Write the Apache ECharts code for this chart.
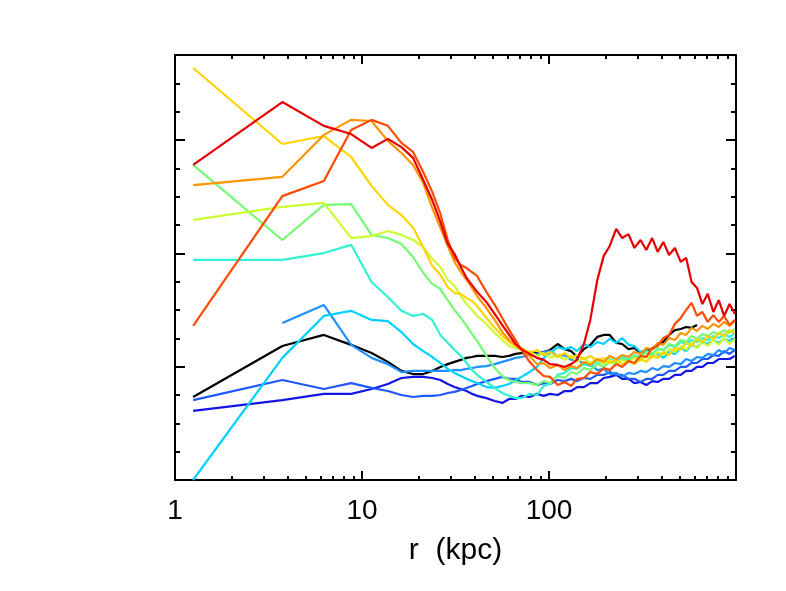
<!DOCTYPE html>
<html>
<head>
<meta charset="utf-8">
<script src="https://cdn.jsdelivr.net/npm/echarts@6/dist/echarts.min.js"></script>
<style>
  html, body { margin: 0; padding: 0; background: #fff; }
  #main { width: 786px; height: 591px; }
</style>
</head>
<body>
<div id="main"></div>
<script>
// radial bins (kpc)
const radius = [1.25,3.75,6.25,8.75,11.25,13.75,16.25,18.75,21.25,23.75,26.25,28.75,31.25,33.75,36.25,38.75,41.25,46.25,51.25,56.25,61.25,66.25,71.25,78.75,86.25,93.75,101.25,111.25,121.25,131.25,141.25,153.75,166.25,181.25,196.25,211.25,228.75,246.25,266.25,286.25,308.75,331.25,356.25,381.25,408.75,438.75,471.25,506.25,541.25,578.75,618.75,661.25,706.25,756.25,808.75,863.75,923.75,986.25];

// profiles, one per colour
const blackVals = [2.93,4.73,5.12,4.77,4.48,4.17,3.85,3.74,3.74,3.85,3.99,4.09,4.17,4.24,4.31,4.34,4.38,4.38,4.38,4.34,4.38,4.45,4.48,4.52,4.48,4.52,4.59,4.80,4.62,4.55,4.34,4.62,4.77,5.05,5.12,5.12,4.84,4.80,4.62,4.66,4.48,4.59,4.62,4.77,4.87,5.12,5.29,5.33,5.40,5.37,5.47,null,null,null,null,null,null,null];
const darkBlueVals = [2.44,2.82,3.04,3.04,3.21,3.39,3.60,3.64,3.64,3.60,3.53,3.39,3.28,3.21,3.14,3.04,2.97,2.89,2.79,2.72,2.86,2.86,2.97,2.93,3.04,2.97,3.04,3.00,3.14,3.14,3.28,3.28,3.42,3.42,3.60,3.64,3.71,3.57,3.57,3.42,3.46,3.35,3.49,3.46,3.57,3.57,3.71,3.71,3.85,3.85,3.99,3.99,4.13,4.13,4.27,4.27,4.27,4.38];
const blueVals = [2.82,3.53,3.21,3.42,3.25,3.14,3.00,2.93,2.97,2.97,3.00,3.07,3.11,3.18,3.25,3.32,3.39,3.49,3.57,3.64,3.57,3.57,3.46,3.46,3.35,3.42,3.39,3.53,3.49,3.57,3.49,3.60,3.57,3.71,3.71,3.81,3.71,3.71,3.57,3.57,3.46,3.57,3.57,3.71,3.71,3.85,3.85,3.99,3.99,4.13,4.13,4.27,4.27,4.41,4.38,4.55,4.45,4.59];
const skyBlueVals = [null,5.54,6.18,4.77,4.31,4.09,3.81,3.85,3.85,3.85,3.85,3.85,3.88,3.88,3.92,3.95,3.99,4.02,4.09,4.17,4.24,4.31,4.34,4.41,4.45,4.52,4.55,4.38,4.41,4.24,4.27,4.09,4.09,3.88,3.92,3.74,3.78,3.64,3.78,3.74,3.85,3.81,3.95,3.88,4.02,3.99,4.13,4.09,4.27,4.20,4.34,4.31,4.45,4.41,4.59,4.48,4.66,4.59];
const cyanVals = [0.00,4.31,5.79,5.97,5.65,5.61,5.22,4.80,4.55,4.34,4.13,3.92,3.78,3.67,3.57,3.49,3.42,3.28,3.25,3.32,3.39,3.53,3.64,3.81,3.99,4.31,4.48,4.69,4.62,4.69,4.55,4.80,4.69,4.87,4.80,4.98,4.84,5.01,4.77,4.73,4.52,4.59,4.38,4.45,4.31,4.52,4.45,4.66,4.55,4.77,4.69,4.87,4.80,4.94,4.84,4.98,4.91,5.01];
const aquaVals = [7.77,7.77,8.01,8.30,6.99,6.46,5.97,5.79,5.86,5.65,5.12,4.84,4.59,4.38,4.13,3.88,3.71,3.46,3.25,3.07,2.97,2.89,2.89,3.04,3.00,3.32,3.39,3.71,3.78,3.95,3.92,4.09,4.02,4.20,4.09,4.27,4.17,4.34,4.24,4.41,4.34,4.52,4.45,4.62,4.59,4.77,4.69,4.87,4.80,4.94,4.87,5.01,4.94,5.08,5.01,5.15,5.05,5.19];
const greenVals = [11.12,8.47,9.71,9.74,8.65,8.54,8.33,7.87,7.31,6.92,6.74,6.35,6.00,5.72,5.44,5.15,4.91,4.38,3.95,3.67,3.53,3.46,3.42,3.42,3.35,3.49,3.42,3.67,3.60,3.81,3.74,3.95,3.88,4.09,3.99,4.17,4.09,4.27,4.20,4.38,4.31,4.52,4.45,4.66,4.59,4.80,4.73,4.94,4.87,5.08,4.98,5.15,5.08,5.22,5.15,5.29,5.19,5.33];
const limeVals = [9.18,9.64,9.78,8.54,8.61,8.79,8.65,8.47,8.22,7.80,7.52,7.06,6.85,6.49,6.21,6.00,5.79,5.51,5.19,4.94,4.73,4.66,4.59,4.52,4.38,4.48,4.31,4.41,4.24,4.38,4.17,4.31,4.13,4.27,4.09,4.24,4.09,4.24,4.13,4.31,4.20,4.38,4.31,4.52,4.41,4.62,4.52,4.73,4.59,4.84,4.66,4.87,4.73,4.94,4.77,5.01,4.80,4.98];
const yellowVals = [14.54,11.86,12.14,11.40,10.38,9.71,9.35,8.90,8.22,7.55,7.24,6.81,6.60,6.57,6.42,6.32,6.14,5.72,5.37,5.08,4.87,4.73,4.66,4.48,4.59,4.41,4.52,4.34,4.48,4.31,4.41,4.27,4.38,4.20,4.31,4.13,4.24,4.09,4.20,4.09,4.27,4.17,4.38,4.31,4.52,4.41,4.66,4.59,4.84,4.73,4.98,4.87,5.08,4.98,5.19,5.08,5.29,5.19];
const orangeVals = [10.41,10.70,12.18,12.71,12.67,11.97,11.54,11.12,10.48,9.60,8.90,8.26,7.70,7.34,7.06,6.78,6.49,6.07,5.65,5.22,4.94,4.77,4.59,4.38,4.09,4.13,3.95,4.06,3.88,4.02,3.95,4.17,4.06,4.27,4.17,4.38,4.27,4.41,4.34,4.52,4.45,4.66,4.62,4.84,4.77,5.01,4.94,5.19,5.12,5.37,5.26,5.44,5.33,5.51,5.40,5.58,5.44,5.61];
const redOrangeVals = [5.44,10.02,10.55,12.35,12.71,12.50,11.90,11.58,10.87,10.17,9.39,8.47,7.84,7.59,7.48,7.34,7.20,6.64,6.18,5.72,5.29,4.94,4.59,4.17,3.88,3.67,3.64,3.35,3.46,3.32,3.57,3.60,3.81,3.74,3.95,3.88,4.09,3.99,4.20,4.13,4.38,4.34,4.66,4.73,5.01,5.12,5.51,5.72,6.00,6.25,5.79,5.93,5.58,5.82,5.58,5.79,5.47,5.65];
const redVals = [11.12,13.34,12.50,12.21,11.72,12.04,11.75,11.37,10.59,9.88,9.11,8.33,7.98,7.52,7.13,6.88,6.64,6.28,5.86,5.47,5.12,4.80,4.62,4.45,4.31,4.24,4.09,4.06,3.99,4.09,4.24,4.80,5.65,7.06,7.91,8.26,8.86,8.54,8.68,8.19,8.47,8.12,8.54,8.05,8.40,7.94,8.19,7.70,7.84,6.99,6.78,6.21,6.57,5.93,6.35,5.79,6.21,5.86];

const profiles = [
  { vals: blackVals, color: '#000000' },
  { vals: darkBlueVals, color: '#1414e6' },
  { vals: blueVals, color: '#2058ff' },
  { vals: skyBlueVals, color: '#1e90ff' },
  { vals: cyanVals, color: '#00d2ff' },
  { vals: aquaVals, color: '#30f2d2' },
  { vals: greenVals, color: '#74fa74' },
  { vals: limeVals, color: '#ccff30' },
  { vals: yellowVals, color: '#ffd400' },
  { vals: orangeVals, color: '#ff9400' },
  { vals: redOrangeVals, color: '#ff4a00' },
  { vals: redVals, color: '#e60000' }
];

const xMajor = [1, 10, 100];
const xMinor = [2,3,4,5,6,7,8,9,20,30,40,50,60,70,80,90,200,300,400,500,600,700,800,900];
const yMajor = [4, 8, 12];
const yMinor = [1,2,3,5,6,7,9,10,11,13,14];

const font = 'Liberation Sans';

function xAx(pos, ticks, len, withLine, withLabel) {
  return {
    type: 'log', logBase: 10, min: 1, max: 1000, position: pos,
    axisLine: { show: withLine, onZero: false, lineStyle: { color: '#000', width: 2 } },
    axisTick: { show: true, inside: true, length: len, customValues: ticks, lineStyle: { color: '#000', width: 2 } },
    axisLabel: withLabel
      ? { show: true, customValues: xMajor, color: '#000', fontSize: 28, fontFamily: font, margin: 17 }
      : { show: false },
    splitLine: { show: false },
    minorTick: { show: false }
  };
}
function yAx(pos, ticks, len, withLine) {
  return {
    type: 'value', min: 0, max: 15, position: pos,
    axisLine: { show: withLine, onZero: false, lineStyle: { color: '#000', width: 2 } },
    axisTick: { show: true, inside: true, length: len, customValues: ticks, lineStyle: { color: '#000', width: 2 } },
    axisLabel: { show: false },
    splitLine: { show: false }
  };
}

const xAxes = [
  xAx('bottom', xMajor, 9, true, true),
  xAx('bottom', xMinor, 4, false, false),
  xAx('top', xMajor, 9, true, false),
  xAx('top', xMinor, 4, false, false)
];
xAxes[0].name = 'r  (kpc)';
xAxes[0].nameLocation = 'middle';
xAxes[0].nameGap = 56;
xAxes[0].nameTextStyle = { color: '#000', fontSize: 30, fontFamily: font };

const yAxes = [
  yAx('left', yMajor, 10, true),
  yAx('left', yMinor, 5, false),
  yAx('right', yMajor, 10, true),
  yAx('right', yMinor, 5, false)
];

const chart = echarts.init(document.getElementById('main'), null, { renderer: 'canvas' });
chart.setOption({
  backgroundColor: '#ffffff',
  animation: false,
  grid: { left: 175, right: 50, top: 55, bottom: 111, containLabel: false },
  xAxis: xAxes,
  yAxis: yAxes,
  series: profiles.map(p => ({
    type: 'line',
    xAxisIndex: 0,
    yAxisIndex: 0,
    symbol: 'none',
    clip: true,
    lineStyle: { color: p.color, width: 2.2 },
    itemStyle: { color: p.color },
    data: radius.map((r, i) => [r, p.vals[i]])
  }))
});
</script>
</body>
</html>
